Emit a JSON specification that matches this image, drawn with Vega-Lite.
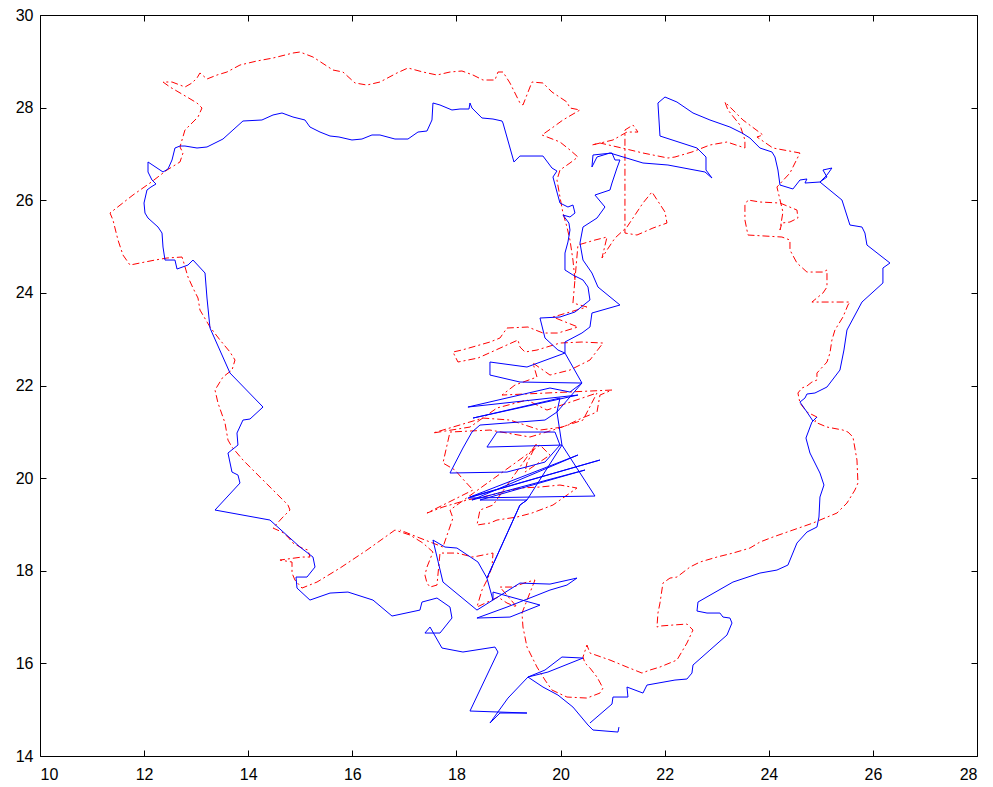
{
  "$schema": "https://vega.github.io/schema/vega-lite/v6.json",
  "width": 937,
  "height": 741,
  "autosize": {"type": "none"},
  "padding": {"left": 40, "top": 15, "right": 16, "bottom": 31},
  "background": "white",
  "config": {
    "view": {"stroke": "black", "strokeWidth": 1},
    "axis": {"grid": false, "domain": false, "labelFont": "Liberation Sans", "labelFontSize": 16, "labelColor": "black", "tickColor": "black", "tickSize": -6, "title": null}
  },
  "datasets": {
    "blue": [
      {"x":21.122,"y":14.625},{"x":21.103,"y":14.517},{"x":20.623,"y":14.561},{"x":20.527,"y":14.669},{"x":20.238,"y":15.057},{"x":19.950,"y":15.316},{"x":19.662,"y":15.489},{"x":19.374,"y":15.705},{"x":19.701,"y":15.856},{"x":20.027,"y":16.137},{"x":20.431,"y":16.115},{"x":19.758,"y":15.813},{"x":19.374,"y":15.705},{"x":18.990,"y":15.251},{"x":18.644,"y":14.712},{"x":18.836,"y":14.928},{"x":19.355,"y":14.928},{"x":18.260,"y":14.971},{"x":18.798,"y":16.245},{"x":18.740,"y":16.353},{"x":18.125,"y":16.245},{"x":17.722,"y":16.331},{"x":17.492,"y":16.785},{"x":17.395,"y":16.655},{"x":17.684,"y":16.655},{"x":17.914,"y":16.979},{"x":17.876,"y":17.216},{"x":17.626,"y":17.411},{"x":17.338,"y":17.324},{"x":17.299,"y":17.151},{"x":16.762,"y":17.022},{"x":16.397,"y":17.367},{"x":15.916,"y":17.540},{"x":15.571,"y":17.518},{"x":15.186,"y":17.367},{"x":14.937,"y":17.626},{"x":14.918,"y":17.864},{"x":15.129,"y":17.864},{"x":15.283,"y":18.080},{"x":15.244,"y":18.296},{"x":14.994,"y":18.512},{"x":14.418,"y":19.095},{"x":13.362,"y":19.311},{"x":13.842,"y":19.894},{"x":13.803,"y":20.067},{"x":13.688,"y":20.131},{"x":13.611,"y":20.542},{"x":13.803,"y":20.714},{"x":13.784,"y":20.974},{"x":13.899,"y":21.254},{"x":14.034,"y":21.276},{"x":14.284,"y":21.535},{"x":13.650,"y":22.269},{"x":13.266,"y":23.241},{"x":13.208,"y":23.889},{"x":13.170,"y":24.429},{"x":12.939,"y":24.709},{"x":12.843,"y":24.601},{"x":12.632,"y":24.515},{"x":12.593,"y":24.709},{"x":12.401,"y":24.709},{"x":12.363,"y":24.990},{"x":12.344,"y":25.292},{"x":12.267,"y":25.422},{"x":12.075,"y":25.616},{"x":12.017,"y":25.724},{"x":11.998,"y":25.940},{"x":12.055,"y":26.221},{"x":12.132,"y":26.286},{"x":12.228,"y":26.351},{"x":12.151,"y":26.437},{"x":12.075,"y":26.610},{"x":12.075,"y":26.826},{"x":12.363,"y":26.610},{"x":12.459,"y":26.675},{"x":12.536,"y":26.869},{"x":12.593,"y":27.128},{"x":12.689,"y":27.171},{"x":12.785,"y":27.171},{"x":13.016,"y":27.128},{"x":13.208,"y":27.150},{"x":13.515,"y":27.322},{"x":13.707,"y":27.517},{"x":13.899,"y":27.711},{"x":14.264,"y":27.733},{"x":14.476,"y":27.841},{"x":14.649,"y":27.884},{"x":14.860,"y":27.797},{"x":15.090,"y":27.733},{"x":15.186,"y":27.581},{"x":15.379,"y":27.473},{"x":15.571,"y":27.387},{"x":15.743,"y":27.366},{"x":15.993,"y":27.301},{"x":16.185,"y":27.322},{"x":16.377,"y":27.409},{"x":16.531,"y":27.409},{"x":16.819,"y":27.322},{"x":17.069,"y":27.322},{"x":17.261,"y":27.473},{"x":17.434,"y":27.495},{"x":17.530,"y":27.733},{"x":17.549,"y":28.100},{"x":17.684,"y":28.057},{"x":17.914,"y":27.949},{"x":18.068,"y":27.970},{"x":18.241,"y":27.970},{"x":18.260,"y":28.100},{"x":18.298,"y":27.992},{"x":18.490,"y":27.776},{"x":18.702,"y":27.754},{"x":18.875,"y":27.711},{"x":18.894,"y":27.668},{"x":19.105,"y":26.826},{"x":19.220,"y":26.955},{"x":19.662,"y":26.955},{"x":19.835,"y":26.696},{"x":19.931,"y":26.631},{"x":19.854,"y":26.502},{"x":19.931,"y":26.178},{"x":19.989,"y":25.940},{"x":20.142,"y":25.854},{"x":20.238,"y":25.897},{"x":20.277,"y":25.724},{"x":20.181,"y":25.638},{"x":20.046,"y":25.681},{"x":20.161,"y":25.508},{"x":20.181,"y":25.357},{"x":20.142,"y":25.098},{"x":20.085,"y":24.860},{"x":20.085,"y":24.494},{"x":20.238,"y":24.386},{"x":20.431,"y":24.278},{"x":20.527,"y":24.126},{"x":20.565,"y":23.846},
      {"x":20.277,"y":23.587},{"x":19.989,"y":23.479},{"x":19.605,"y":23.457},{"x":19.701,"y":23.025},{"x":19.950,"y":22.766},{"x":20.085,"y":22.701},{"x":19.355,"y":22.399},{"x":18.644,"y":22.507},{"x":18.644,"y":22.226},{"x":19.220,"y":22.075},{"x":20.411,"y":22.053},{"x":20.181,"y":21.859},{"x":19.797,"y":21.946},{"x":18.221,"y":21.535},{"x":20.334,"y":21.794},{"x":18.318,"y":21.297},{"x":19.989,"y":21.729},{"x":19.931,"y":21.427},{"x":19.701,"y":21.254},{"x":18.452,"y":21.146},{"x":18.298,"y":20.995},{"x":18.125,"y":20.650},{"x":17.876,"y":20.110},{"x":18.971,"y":20.131},{"x":19.701,"y":20.347},{"x":19.989,"y":20.714},{"x":19.893,"y":20.995},{"x":18.779,"y":20.995},{"x":18.586,"y":20.671},{"x":20.027,"y":20.714},{"x":20.661,"y":19.613},{"x":18.221,"y":19.570},{"x":20.757,"y":20.391},{"x":18.260,"y":19.592},{"x":20.334,"y":20.499},{"x":18.298,"y":19.527},{"x":20.469,"y":20.175},{"x":18.452,"y":19.527},{"x":19.355,"y":19.527},{"x":19.220,"y":19.419},{"x":18.586,"y":17.842},{"x":18.414,"y":18.188},{"x":18.010,"y":18.490},{"x":17.780,"y":18.512},{"x":17.549,"y":18.663},{"x":17.741,"y":17.756},{"x":18.394,"y":17.151},{"x":19.220,"y":17.734},{"x":19.797,"y":17.712},{"x":20.315,"y":17.842},{"x":20.123,"y":17.691},{"x":19.797,"y":17.583},{"x":18.971,"y":17.216},{"x":18.394,"y":16.979},{"x":19.028,"y":17.000},{"x":19.605,"y":17.259},{"x":18.702,"y":17.540},{"x":18.702,"y":17.367},{"x":18.586,"y":17.842},{"x":19.220,"y":19.419},{"x":19.355,"y":19.527},{"x":20.027,"y":20.714},{"x":19.931,"y":21.427},{"x":20.411,"y":22.053},{"x":20.085,"y":22.701},{"x":20.085,"y":22.939},{"x":20.411,"y":23.133},{"x":20.565,"y":23.263},{"x":20.603,"y":23.565},{"x":21.141,"y":23.738},
      {"x":20.719,"y":24.126},{"x":20.603,"y":24.429},{"x":20.431,"y":24.709},{"x":20.373,"y":25.076},{"x":20.431,"y":25.422},{"x":20.700,"y":25.616},{"x":20.853,"y":25.854},{"x":20.661,"y":26.113},{"x":20.949,"y":26.221},{"x":20.988,"y":26.372},{"x":21.084,"y":26.696},{"x":21.141,"y":26.869},{"x":21.045,"y":26.869},{"x":20.988,"y":27.020},{"x":20.623,"y":26.977},{"x":20.603,"y":26.718},{"x":20.700,"y":26.934},{"x":20.949,"y":27.020},{"x":21.583,"y":26.804},{"x":22.063,"y":26.761},{"x":22.774,"y":26.610},{"x":22.909,"y":26.480},{"x":22.794,"y":26.653},{"x":22.794,"y":26.934},{"x":22.621,"y":27.128},{"x":21.910,"y":27.387},{"x":21.871,"y":28.100},{"x":22.006,"y":28.229},{"x":22.236,"y":28.121},{"x":22.544,"y":27.884},{"x":22.870,"y":27.733},{"x":23.254,"y":27.581},{"x":23.485,"y":27.452},{"x":23.638,"y":27.344},{"x":23.830,"y":27.128},{"x":23.888,"y":27.106},{"x":24.061,"y":27.042},{"x":24.119,"y":26.934},{"x":24.176,"y":26.653},{"x":24.215,"y":26.329},{"x":24.464,"y":26.243},{"x":24.599,"y":26.437},{"x":24.733,"y":26.459},{"x":24.695,"y":26.372},{"x":24.983,"y":26.394},{"x":25.118,"y":26.502},{"x":25.041,"y":26.653},{"x":25.213,"y":26.696},{"x":25.118,"y":26.545},{"x":24.983,"y":26.394},{"x":25.406,"y":26.005},{"x":25.559,"y":25.465},{"x":25.790,"y":25.422},{"x":25.847,"y":25.292},{"x":25.886,"y":25.033},{"x":26.328,"y":24.645},{"x":26.193,"y":24.537},{"x":26.193,"y":24.213},{"x":25.790,"y":23.802},{"x":25.502,"y":23.198},{"x":25.444,"y":22.766},{"x":25.367,"y":22.334},{"x":25.118,"y":21.967},{"x":24.887,"y":21.838},{"x":24.733,"y":21.816},{"x":24.695,"y":21.729},{"x":24.599,"y":21.643},{"x":24.733,"y":21.427},{"x":24.849,"y":21.233},{"x":24.925,"y":21.319},{"x":24.829,"y":21.211},{"x":24.714,"y":20.866},{"x":24.791,"y":20.542},{"x":24.983,"y":20.110},{"x":25.060,"y":19.851},{"x":24.983,"y":19.592},{"x":24.964,"y":19.160},{"x":24.925,"y":18.944},{"x":24.733,"y":18.836},{"x":24.541,"y":18.598},{"x":24.368,"y":18.123},{"x":24.157,"y":18.015},{"x":23.830,"y":17.950},{"x":23.312,"y":17.756},{"x":22.640,"y":17.324},{"x":22.621,"y":17.130},{"x":22.813,"y":17.087},{"x":23.062,"y":17.087},{"x":23.120,"y":17.000},{"x":23.254,"y":16.979},{"x":23.293,"y":16.871},{"x":23.197,"y":16.612},{"x":22.870,"y":16.288},{"x":22.544,"y":15.964},{"x":22.524,"y":15.791},{"x":22.428,"y":15.662},{"x":22.198,"y":15.640},{"x":21.660,"y":15.532},{"x":21.583,"y":15.359},{"x":21.276,"y":15.489},{"x":21.295,"y":15.273},{"x":21.007,"y":15.273},{"x":20.988,"y":15.122},{"x":20.565,"y":14.712}
    ],
    "red": [
      {"x":20.277,"y":24.278},{"x":20.238,"y":24.709},{"x":20.181,"y":25.141},{"x":20.123,"y":25.422},{"x":20.046,"y":25.724},{"x":19.989,"y":26.070},{"x":19.931,"y":26.437},{"x":19.989,"y":26.653},{"x":20.181,"y":26.804},{"x":20.334,"y":26.934},{"x":20.181,"y":27.085},{"x":19.989,"y":27.258},{"x":19.643,"y":27.409},{"x":19.835,"y":27.560},{"x":20.046,"y":27.733},{"x":20.373,"y":27.949},{"x":20.181,"y":27.992},{"x":20.123,"y":28.121},{"x":19.835,"y":28.337},{"x":19.662,"y":28.532},{"x":19.451,"y":28.553},{"x":19.278,"y":28.057},{"x":19.220,"y":28.100},{"x":19.028,"y":28.532},{"x":18.894,"y":28.769},{"x":18.798,"y":28.769},{"x":18.740,"y":28.596},{"x":18.510,"y":28.596},{"x":18.318,"y":28.704},{"x":18.106,"y":28.791},{"x":17.876,"y":28.769},{"x":17.626,"y":28.704},{"x":17.357,"y":28.769},{"x":17.069,"y":28.856},{"x":16.858,"y":28.748},{"x":16.531,"y":28.553},{"x":16.281,"y":28.488},{"x":16.051,"y":28.532},{"x":15.820,"y":28.769},{"x":15.628,"y":28.812},{"x":15.244,"y":29.093},{"x":14.994,"y":29.201},{"x":14.860,"y":29.179},{"x":14.476,"y":29.071},{"x":14.168,"y":29.007},{"x":13.842,"y":28.920},{"x":13.592,"y":28.769},{"x":13.400,"y":28.704},{"x":13.208,"y":28.618},{"x":13.073,"y":28.748},{"x":13.016,"y":28.640},{"x":12.920,"y":28.532},{"x":12.785,"y":28.445},{"x":12.689,"y":28.488},{"x":12.536,"y":28.553},{"x":12.363,"y":28.553},{"x":12.497,"y":28.445},{"x":12.824,"y":28.229},{"x":13.016,"y":28.100},{"x":13.112,"y":27.992},{"x":13.035,"y":27.797},{"x":12.920,"y":27.668},{"x":12.785,"y":27.517},{"x":12.728,"y":27.301},{"x":12.689,"y":27.150},{"x":12.747,"y":27.020},{"x":12.689,"y":26.826},{"x":12.440,"y":26.653},{"x":12.113,"y":26.372},{"x":11.786,"y":26.113},{"x":11.345,"y":25.724},{"x":11.402,"y":25.573},{"x":11.498,"y":25.141},{"x":11.594,"y":24.817},{"x":11.729,"y":24.601},{"x":11.921,"y":24.645},{"x":12.209,"y":24.709},{"x":12.440,"y":24.753},{"x":12.728,"y":24.774},{"x":12.747,"y":24.709},{"x":12.843,"y":24.342},{"x":12.939,"y":24.105},{"x":13.035,"y":23.889},{"x":13.073,"y":23.630},{"x":13.266,"y":23.263},{"x":13.458,"y":22.982},{"x":13.650,"y":22.723},{"x":13.746,"y":22.550},{"x":13.688,"y":22.334},{"x":13.515,"y":22.183},{"x":13.362,"y":21.902},{"x":13.419,"y":21.622},{"x":13.554,"y":21.190},{"x":13.611,"y":20.822},{"x":13.688,"y":20.671},{"x":13.899,"y":20.391},{"x":14.226,"y":20.023},{"x":14.476,"y":19.743},{"x":14.764,"y":19.419},{"x":14.802,"y":19.311},{"x":14.649,"y":19.138},{"x":14.476,"y":18.922},{"x":14.649,"y":18.836},{"x":14.764,"y":18.728},{"x":14.860,"y":18.598},{"x":15.033,"y":18.490},{"x":15.148,"y":18.447},{"x":15.186,"y":18.296},{"x":15.033,"y":18.296},{"x":14.610,"y":18.231},{"x":14.841,"y":18.188},{"x":14.841,"y":17.950},{"x":14.898,"y":17.799},{"x":15.033,"y":17.626},{"x":15.321,"y":17.756},{"x":15.763,"y":18.058},{"x":16.281,"y":18.447},{"x":16.819,"y":18.879},{"x":17.107,"y":18.771},{"x":17.357,"y":18.598},{"x":17.549,"y":18.404},{"x":17.434,"y":18.080},{"x":17.395,"y":17.907},{"x":17.434,"y":17.734},{"x":17.492,"y":17.648},{"x":17.626,"y":17.691},{"x":17.684,"y":18.382},{"x":18.010,"y":18.382},{"x":18.318,"y":18.296},{"x":18.702,"y":18.382},{"x":18.683,"y":18.080},{"x":18.606,"y":17.842},{"x":18.490,"y":17.583},{"x":18.394,"y":17.216},{"x":18.798,"y":17.432},{"x":18.971,"y":17.303},{"x":19.163,"y":17.216},{"x":18.836,"y":17.648},{"x":19.086,"y":17.648},{"x":19.355,"y":17.756},{"x":19.508,"y":17.799},{"x":19.259,"y":17.087},{"x":19.278,"y":16.785},{"x":19.355,"y":16.353},{"x":19.547,"y":15.921},{"x":19.701,"y":15.640},{"x":19.835,"y":15.424},{"x":20.123,"y":15.273},{"x":20.507,"y":15.251},{"x":20.757,"y":15.359},{"x":20.815,"y":15.467},{"x":20.700,"y":15.705},{"x":20.565,"y":15.899},{"x":20.469,"y":16.007},{"x":20.431,"y":16.137},{"x":20.507,"y":16.396},{"x":20.565,"y":16.223},{"x":20.949,"y":16.072},{"x":21.276,"y":15.921},{"x":21.564,"y":15.791},{"x":21.717,"y":15.856},{"x":21.910,"y":15.921},{"x":22.236,"y":16.072},{"x":22.428,"y":16.439},{"x":22.544,"y":16.720},{"x":22.428,"y":16.849},{"x":22.159,"y":16.828},{"x":21.910,"y":16.806},{"x":21.852,"y":16.785},{"x":21.871,"y":17.087},{"x":21.910,"y":17.303},{"x":21.967,"y":17.734},{"x":22.102,"y":17.842},{"x":22.236,"y":17.864},{"x":22.486,"y":18.080},{"x":22.678,"y":18.188},{"x":23.005,"y":18.296},{"x":23.312,"y":18.382},{"x":23.638,"y":18.490},{"x":23.830,"y":18.620},{"x":24.080,"y":18.728},{"x":24.464,"y":18.879},{"x":24.849,"y":19.030},{"x":24.983,"y":19.095},{"x":25.310,"y":19.246},{"x":25.502,"y":19.462},{"x":25.655,"y":19.743},{"x":25.713,"y":19.894},{"x":25.694,"y":20.391},{"x":25.617,"y":20.887},{"x":25.521,"y":20.995},{"x":25.425,"y":21.038},{"x":25.118,"y":21.103},{"x":24.887,"y":21.211},{"x":24.925,"y":21.319},{"x":24.733,"y":21.427},{"x":24.599,"y":21.622},{"x":24.560,"y":21.838},{"x":24.637,"y":21.946},{"x":24.733,"y":21.989},{"x":24.829,"y":22.075},{"x":24.925,"y":22.118},{"x":24.925,"y":22.269},{"x":25.118,"y":22.507},{"x":25.175,"y":22.701},{"x":25.213,"y":22.982},{"x":25.271,"y":23.198},{"x":25.425,"y":23.479},{"x":25.521,"y":23.738},{"x":25.559,"y":23.802},{"x":25.310,"y":23.802},{"x":24.829,"y":23.802},{"x":25.041,"y":23.997},{"x":25.118,"y":24.126},{"x":25.118,"y":24.494},{"x":25.041,"y":24.450},{"x":24.733,"y":24.450},{"x":24.541,"y":24.645},{"x":24.407,"y":24.925},{"x":24.407,"y":25.141},{"x":24.253,"y":25.206},{"x":23.600,"y":25.249},{"x":23.542,"y":25.573},{"x":23.542,"y":25.897},{"x":23.600,"y":26.005},{"x":23.830,"y":25.962},{"x":24.215,"y":25.940},{"x":24.541,"y":25.789},{"x":24.560,"y":25.616},{"x":24.407,"y":25.530},{"x":24.253,"y":25.508},{"x":24.215,"y":25.357},{"x":24.272,"y":25.746},{"x":24.157,"y":26.286},{"x":24.407,"y":26.588},{"x":24.599,"y":27.020},{"x":24.080,"y":27.128},{"x":23.773,"y":27.366},{"x":23.888,"y":27.409},{"x":23.504,"y":27.733},{"x":23.158,"y":28.121},{"x":23.216,"y":27.949},{"x":23.446,"y":27.625},{"x":23.542,"y":27.301},{"x":23.542,"y":27.128},{"x":23.197,"y":27.258},{"x":22.870,"y":27.193},{"x":22.524,"y":27.042},{"x":22.198,"y":26.934},{"x":22.063,"y":26.912},{"x":21.583,"y":27.020},{"x":21.180,"y":27.128},{"x":20.757,"y":27.236},{"x":20.603,"y":27.193},{"x":21.007,"y":27.301},{"x":21.276,"y":27.473},{"x":21.487,"y":27.473},{"x":21.391,"y":27.625},{"x":21.237,"y":27.517},{"x":21.237,"y":26.977},{"x":21.237,"y":25.292},{"x":21.468,"y":25.249},{"x":21.775,"y":25.400},{"x":22.044,"y":25.508},{"x":22.006,"y":25.746},{"x":21.756,"y":26.178},{"x":21.583,"y":25.940},{"x":21.276,"y":25.422},{"x":21.045,"y":25.184},{"x":20.892,"y":24.925},{"x":20.796,"y":24.753},{"x":20.892,"y":25.206},{"x":20.661,"y":25.141},{"x":20.334,"y":25.033},
      {"x":20.238,"y":23.781},{"x":20.507,"y":23.695},{"x":20.181,"y":23.587},{"x":19.854,"y":23.479},{"x":20.334,"y":23.263},{"x":19.950,"y":23.133},{"x":19.662,"y":23.133},{"x":19.374,"y":23.263},{"x":18.971,"y":23.241},{"x":18.836,"y":23.025},{"x":18.644,"y":22.939},{"x":18.106,"y":22.766},{"x":17.933,"y":22.723},{"x":18.029,"y":22.507},{"x":18.414,"y":22.593},{"x":19.182,"y":22.982},{"x":19.220,"y":22.831},{"x":19.317,"y":22.723},{"x":19.547,"y":22.766},{"x":19.989,"y":22.917},{"x":20.411,"y":22.939},{"x":20.815,"y":22.917},{"x":20.565,"y":22.550},{"x":20.181,"y":22.334},{"x":19.797,"y":22.226},{"x":19.470,"y":22.485},{"x":19.547,"y":22.183},{"x":19.124,"y":22.010},{"x":18.875,"y":21.794},{"x":20.988,"y":21.902},{"x":20.757,"y":21.794},{"x":20.700,"y":21.427},{"x":20.411,"y":21.297},{"x":20.046,"y":21.103},{"x":19.605,"y":21.038},{"x":19.028,"y":21.254},{"x":18.510,"y":21.297},{"x":17.549,"y":20.974},{"x":18.260,"y":21.103},{"x":18.779,"y":21.514},{"x":19.355,"y":21.686},{"x":19.739,"y":21.470},{"x":20.700,"y":21.838},{"x":20.431,"y":21.254},{"x":19.854,"y":21.038},{"x":19.412,"y":20.887},{"x":18.644,"y":21.038},{"x":17.876,"y":20.995},{"x":17.741,"y":20.326},{"x":17.972,"y":20.175},{"x":18.106,"y":20.002},{"x":18.318,"y":19.743},{"x":17.434,"y":19.246},{"x":17.741,"y":19.376},{"x":18.202,"y":19.527},{"x":18.510,"y":19.592},{"x":18.894,"y":19.700},{"x":19.220,"y":19.786},{"x":19.605,"y":19.808},{"x":19.989,"y":19.851},{"x":20.315,"y":19.786},{"x":19.854,"y":19.419},{"x":19.451,"y":19.246},{"x":19.163,"y":19.160},{"x":18.779,"y":19.095},{"x":18.644,"y":19.030},{"x":18.394,"y":18.987},{"x":18.452,"y":19.311},{"x":18.702,"y":19.419},{"x":19.547,"y":20.758},{"x":19.355,"y":20.326},{"x":19.317,"y":20.131},{"x":19.797,"y":20.499},{"x":19.605,"y":20.714},{"x":17.876,"y":19.311},{"x":17.933,"y":19.138},{"x":17.741,"y":18.512},{"x":17.299,"y":18.706},{"x":16.915,"y":18.879}
    ]
  },
  "layer": [
    {
      "data": {"name": "red"},
      "mark": {"type": "line", "color": "#ff0000", "strokeWidth": 1, "strokeDash": [7, 3, 2, 3], "clip": true},
      "encoding": {
        "x": {"field": "x", "type": "quantitative", "scale": {"domain": [10, 28], "nice": false, "zero": false}, "axis": {"values": [10,12,14,16,18,20,22,24,26,28], "labelPadding": 16}},
        "y": {"field": "y", "type": "quantitative", "scale": {"domain": [14, 30], "nice": false, "zero": false}, "axis": {"values": [14,16,18,20,22,24,26,28,30], "labelPadding": 13}},
        "order": {"value": null}
      }
    },
    {
      "data": {"name": "blue"},
      "mark": {"type": "line", "color": "#0000ff", "strokeWidth": 1, "clip": true},
      "encoding": {
        "x": {"field": "x", "type": "quantitative", "axis": null},
        "y": {"field": "y", "type": "quantitative", "axis": null},
        "order": {"value": null}
      }
    },
    {
      "data": {"name": "blue"},
      "mark": {"type": "point", "opacity": 0},
      "encoding": {
        "x": {"field": "x", "type": "quantitative", "axis": {"orient": "top", "labels": false, "values": [10,12,14,16,18,20,22,24,26,28]}},
        "y": {"field": "y", "type": "quantitative", "axis": {"orient": "right", "labels": false, "values": [14,16,18,20,22,24,26,28,30]}}
      }
    }
  ],
  "resolve": {"axis": {"x": "independent", "y": "independent"}}
}
